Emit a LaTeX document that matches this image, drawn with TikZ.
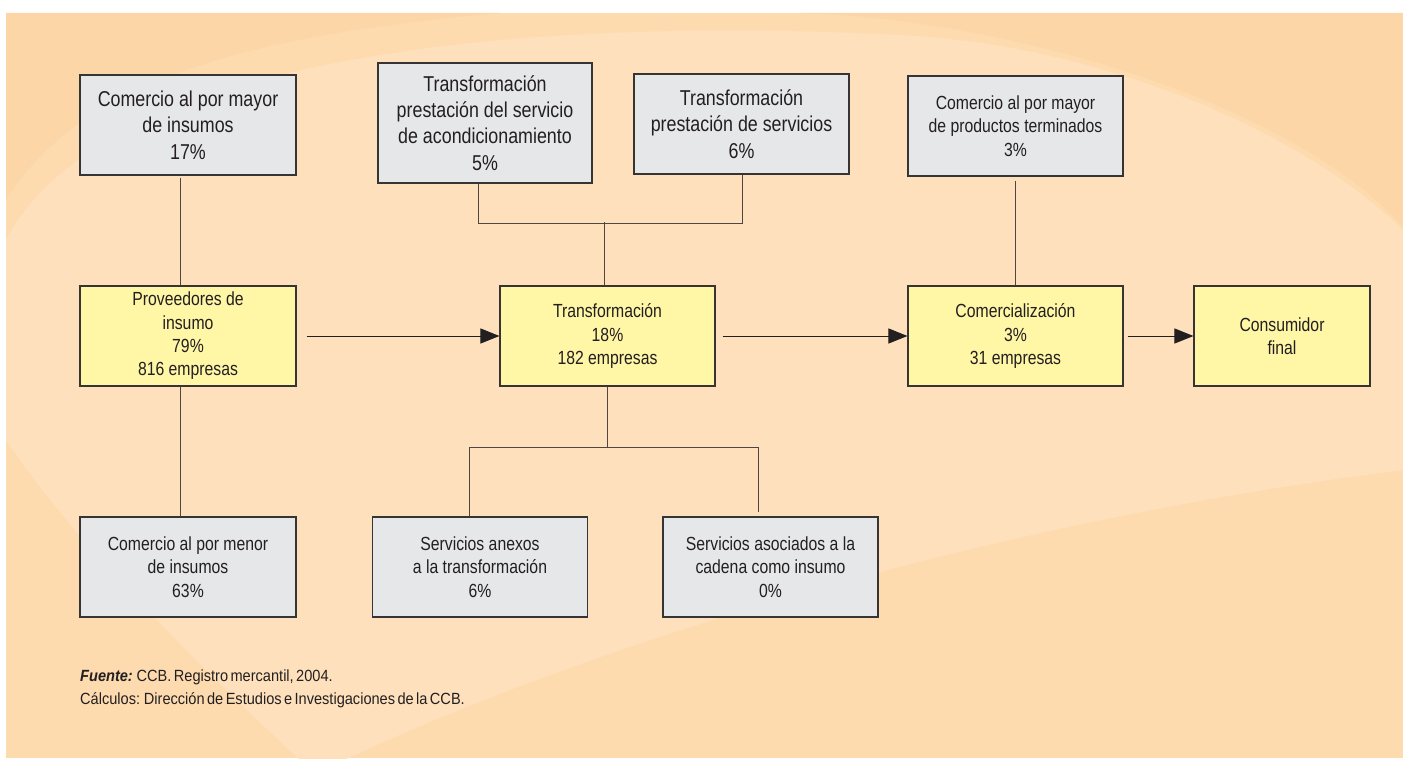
\documentclass[tikz,border=0pt]{standalone}
\usepackage{fontspec}
\setmainfont{Liberation Sans}[FakeStretch=0.83]
\newfontfamily\footfont{Liberation Sans}[FakeStretch=0.9]
\newcommand{\myfootset}{\footfont\fontsize{16.2}{22}\selectfont\spaceskip=0.15em plus 0.05em\relax}
\usetikzlibrary{arrows.meta}
\definecolor{peach}{RGB}{253,219,175}
\definecolor{peachlight}{RGB}{254,225,188}
\definecolor{peachdark}{RGB}{252,214,166}
\definecolor{boxgray}{RGB}{230,231,232}
\definecolor{boxyellow}{RGB}{255,246,166}
\definecolor{edge}{RGB}{55,52,52}
\definecolor{ink}{RGB}{35,31,32}
\definecolor{wire}{RGB}{80,70,65}
\tikzset{
 box/.style={draw=edge, line width=1.1pt, align=center, inner sep=0pt, text=ink},
 graybox/.style={box, fill=boxgray},
 yelbox/.style={box, fill=boxyellow},
 bigtxt/.style={font=\fontsize{21.5}{26.3}\selectfont},
 midtxt/.style={font=\fontsize{19}{23.3}\selectfont},
 wirestyle/.style={draw=wire, line width=0.9pt},
 arr/.style={draw=ink, line width=1pt, -{Triangle[length=19pt,width=15pt]}},
 foottxt/.style={anchor=base west, inner sep=0pt, text=ink},
}
\begin{document}
\begin{tikzpicture}[x=1pt,y=-1pt]
\useasboundingbox (0,0) rectangle (1403,760);
\fill[white] (0,0) rectangle (1403,760);
\fill[peach] (6,13) rectangle (1403,758);
\begin{scope}
\clip (6,13) rectangle (1403,758);
\fill[peachlight] (6,240) .. controls (100,60) and (500,15) .. (900,35) .. controls (1100,45) and (1300,130) .. (1403,230) -- (1403,470) .. controls (1000,520) and (600,640) .. (344,760) -- (300,760) .. controls (150,620) and (60,520) .. (6,440) -- cycle;
\fill[peachdark] (800,13) .. controls (1000,18) and (1290,100) .. (1403,227) -- (1403,13) -- cycle;
\fill[peachdark] (6,13) -- (6,200) .. controls (80,80) and (250,35) .. (500,13) -- cycle;
\end{scope}

% top row
\node[graybox,bigtxt,minimum width=216pt,minimum height=100pt] (A) at (188,125) {Comercio al por mayor\\de insumos\\17\%};
\node[graybox,bigtxt,minimum width=214pt,minimum height=120pt] (B) at (485,123) {Transformación\\prestación del servicio\\de acondicionamiento\\5\%};
\node[graybox,bigtxt,minimum width=215pt,minimum height=100pt] (C) at (741.5,124) {Transformación\\prestación de servicios\\6\%};
\node[graybox,midtxt,minimum width=215pt,minimum height=100pt] (D) at (1015.5,126) {Comercio al por mayor\\de productos terminados\\3\%};

% middle row
\node[yelbox,midtxt,minimum width=216pt,minimum height=100pt] (P) at (188,336) {Proveedores de\\insumo\\79\%\\816 empresas};
\node[yelbox,midtxt,minimum width=215pt,minimum height=100pt] (T) at (607.5,336) {Transformación\\18\%\\182 empresas};
\node[yelbox,midtxt,minimum width=215pt,minimum height=100pt] (Co) at (1015.5,336) {Comercialización\\3\%\\31 empresas};
\node[yelbox,midtxt,minimum width=176pt,minimum height=100pt] (Cf) at (1282,336) {Consumidor\\final};

% bottom row
\node[graybox,midtxt,minimum width=216pt,minimum height=100pt] (M) at (188,567) {Comercio al por menor\\de insumos\\63\%};
\node[graybox,midtxt,minimum width=214.5pt,minimum height=100pt] (S1) at (480,567) {Servicios anexos\\a la transformación\\6\%};
\node[graybox,midtxt,minimum width=215pt,minimum height=100pt] (S2) at (770.5,567) {Servicios asociados a la\\cadena como insumo\\0\%};

% connectors
\draw[wirestyle] ([xshift=-8pt,yshift=-2pt]A.south) -- ([xshift=-8pt]P.north);
\draw[wirestyle] ([xshift=-8pt]P.south) -- ([xshift=-8pt]M.north);
\draw[wirestyle] ([xshift=-6.5pt]B.south) -- ++(0,40) -| ([xshift=0.5pt]C.south);
\draw[wirestyle] ([xshift=-3.5pt]T.north) -- ++(0,-63);
\draw[wirestyle] (T.south) -- ++(0,61) coordinate (tj);
\draw[wirestyle] ([xshift=-11pt]S1.north) |- (tj) -| ([xshift=-12.5pt,yshift=4pt]S2.north);
\draw[wirestyle] ([yshift=-4pt]D.south) -- (Co.north);

% arrows
\draw[arr] ([xshift=10pt]P.east) -- (T.west);
\draw[arr] ([xshift=7pt]T.east) -- (Co.west);
\draw[arr] ([xshift=4pt]Co.east) -- (Cf.west);

% footer
\node[foottxt] (f1) at (80,681) {\myfootset\textbf{\textit{Fuente:}} CCB. Registro mercantil, 2004.};
\node[foottxt] (f2) at (80,704) {\myfootset Cálculos: Dirección de Estudios e Investigaciones de la CCB.};
\end{tikzpicture}
\end{document}
